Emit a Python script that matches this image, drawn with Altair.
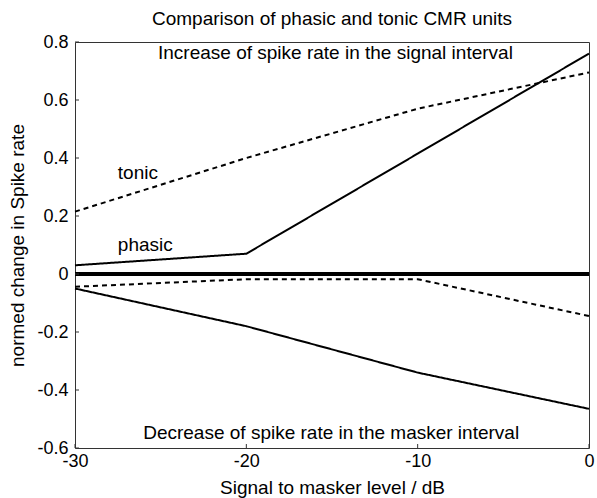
import altair as alt
import pandas as pd

# Signal-to-masker level (dB) at which each unit type was measured
level_db = [-30, -20, -10, 0]

# Normed change in spike rate: increase in the signal interval
phasic_increase = [0.03, 0.07, 0.415, 0.76]
tonic_increase = [0.215, 0.40, 0.57, 0.695]

# Normed change in spike rate: decrease in the masker interval
phasic_decrease = [-0.05, -0.18, -0.34, -0.465]
tonic_decrease = [-0.044, -0.018, -0.018, -0.145]

x_ticks = [-30, -20, -10, 0]
y_ticks = [-0.6, -0.4, -0.2, 0, 0.2, 0.4, 0.6, 0.8]

curves = [
    ("phasic increase", "solid", phasic_increase),
    ("tonic increase", "dashed", tonic_increase),
    ("phasic decrease", "solid", phasic_decrease),
    ("tonic decrease", "dashed", tonic_decrease),
]
rows = []
for name, style, values in curves:
    for lv, v in zip(level_db, values):
        rows.append({"level": lv, "rate": v, "curve": name, "style": style})
df = pd.DataFrame(rows)

labels = pd.DataFrame({
    "level": [-27.5, -27.5],
    "rate": [0.35, 0.10],
    "text": ["tonic", "phasic"],
})
notes = pd.DataFrame({
    "level": [-14.8, -15.05],
    "rate": [0.762, -0.548],
    "text": ["Increase of spike rate in the signal interval",
             "Decrease of spike rate in the masker interval"],
})

W, H = 514, 406
FONT = "Liberation Sans"
TEXT_SIZE = 19
TICK_SIZE = 18

x_scale = alt.Scale(domain=[-30, 0], nice=False, zero=False)
y_scale = alt.Scale(domain=[-0.6, 0.8], nice=False, zero=False)

x_enc = alt.X(
    "level:Q", scale=x_scale,
    axis=alt.Axis(values=x_ticks, ticks=False, domain=False, grid=False,
                  labelPadding=4, titlePadding=8, labelFlush=False,
                  labelOverlap=False,
                  labelExpr="toString(datum.value)",
                  title="Signal to masker level / dB"),
)
y_enc = alt.Y(
    "rate:Q", scale=y_scale,
    axis=alt.Axis(values=y_ticks, ticks=False, domain=False, grid=False,
                  labelPadding=7, titlePadding=9, labelFlush=False,
                  labelOverlap=False,
                  labelExpr="datum.value == 0 ? '0' : toString(round(datum.value * 10) / 10)",
                  title="normed change in Spike rate"),
)

lines = alt.Chart(df).mark_line(color="black", strokeWidth=2).encode(
    x=x_enc,
    y=y_enc,
    detail="curve:N",
    strokeDash=alt.StrokeDash(
        "style:N",
        scale=alt.Scale(domain=["solid", "dashed"], range=[[1, 0], [5, 4]]),
        legend=None,
    ),
)

zero_line = alt.Chart(df).mark_rule(color="black", strokeWidth=3).encode(
    y=alt.datum(0, scale=y_scale)
)

x_tick_marks = alt.Chart(pd.DataFrame({"level": x_ticks})).mark_rule(
    color="#333", strokeWidth=1
).encode(x=alt.X("level:Q", scale=x_scale), y=alt.value(H), y2=alt.value(H - 4))

y_tick_marks = alt.Chart(pd.DataFrame({"rate": y_ticks})).mark_rule(
    color="#333", strokeWidth=1
).encode(y=alt.Y("rate:Q", scale=y_scale), x=alt.value(0), x2=alt.value(4))

series_labels = alt.Chart(labels).mark_text(
    align="left", baseline="middle", fontSize=TEXT_SIZE, font=FONT, color="black"
).encode(x=alt.X("level:Q", scale=x_scale), y=alt.Y("rate:Q", scale=y_scale), text="text:N")

interval_notes = alt.Chart(notes).mark_text(
    align="center", baseline="middle", fontSize=TEXT_SIZE, font=FONT, color="black"
).encode(x=alt.X("level:Q", scale=x_scale), y=alt.Y("rate:Q", scale=y_scale), text="text:N")

chart = (
    alt.layer(zero_line, lines, x_tick_marks, y_tick_marks, series_labels, interval_notes)
    .properties(
        width=W,
        height=H,
        background="white",
        title=alt.Title("Comparison of phasic and tonic CMR units", offset=4),
        autosize=alt.AutoSizeParams(type="none"),
        padding={"left": 75, "top": 42, "right": 8, "bottom": 50},
    )
    .configure_view(stroke="#333", strokeWidth=1)
    .configure_axis(labelFont=FONT, titleFont=FONT, labelFontSize=TICK_SIZE,
                    titleFontSize=TEXT_SIZE, labelColor="black", titleColor="black",
                    titleFontWeight="normal")
    .configure_title(font=FONT, fontSize=TEXT_SIZE, fontWeight="normal", color="black",
                     anchor="middle")
)

chart.save("out.html", embed_options={"renderer": "svg", "actions": False})
